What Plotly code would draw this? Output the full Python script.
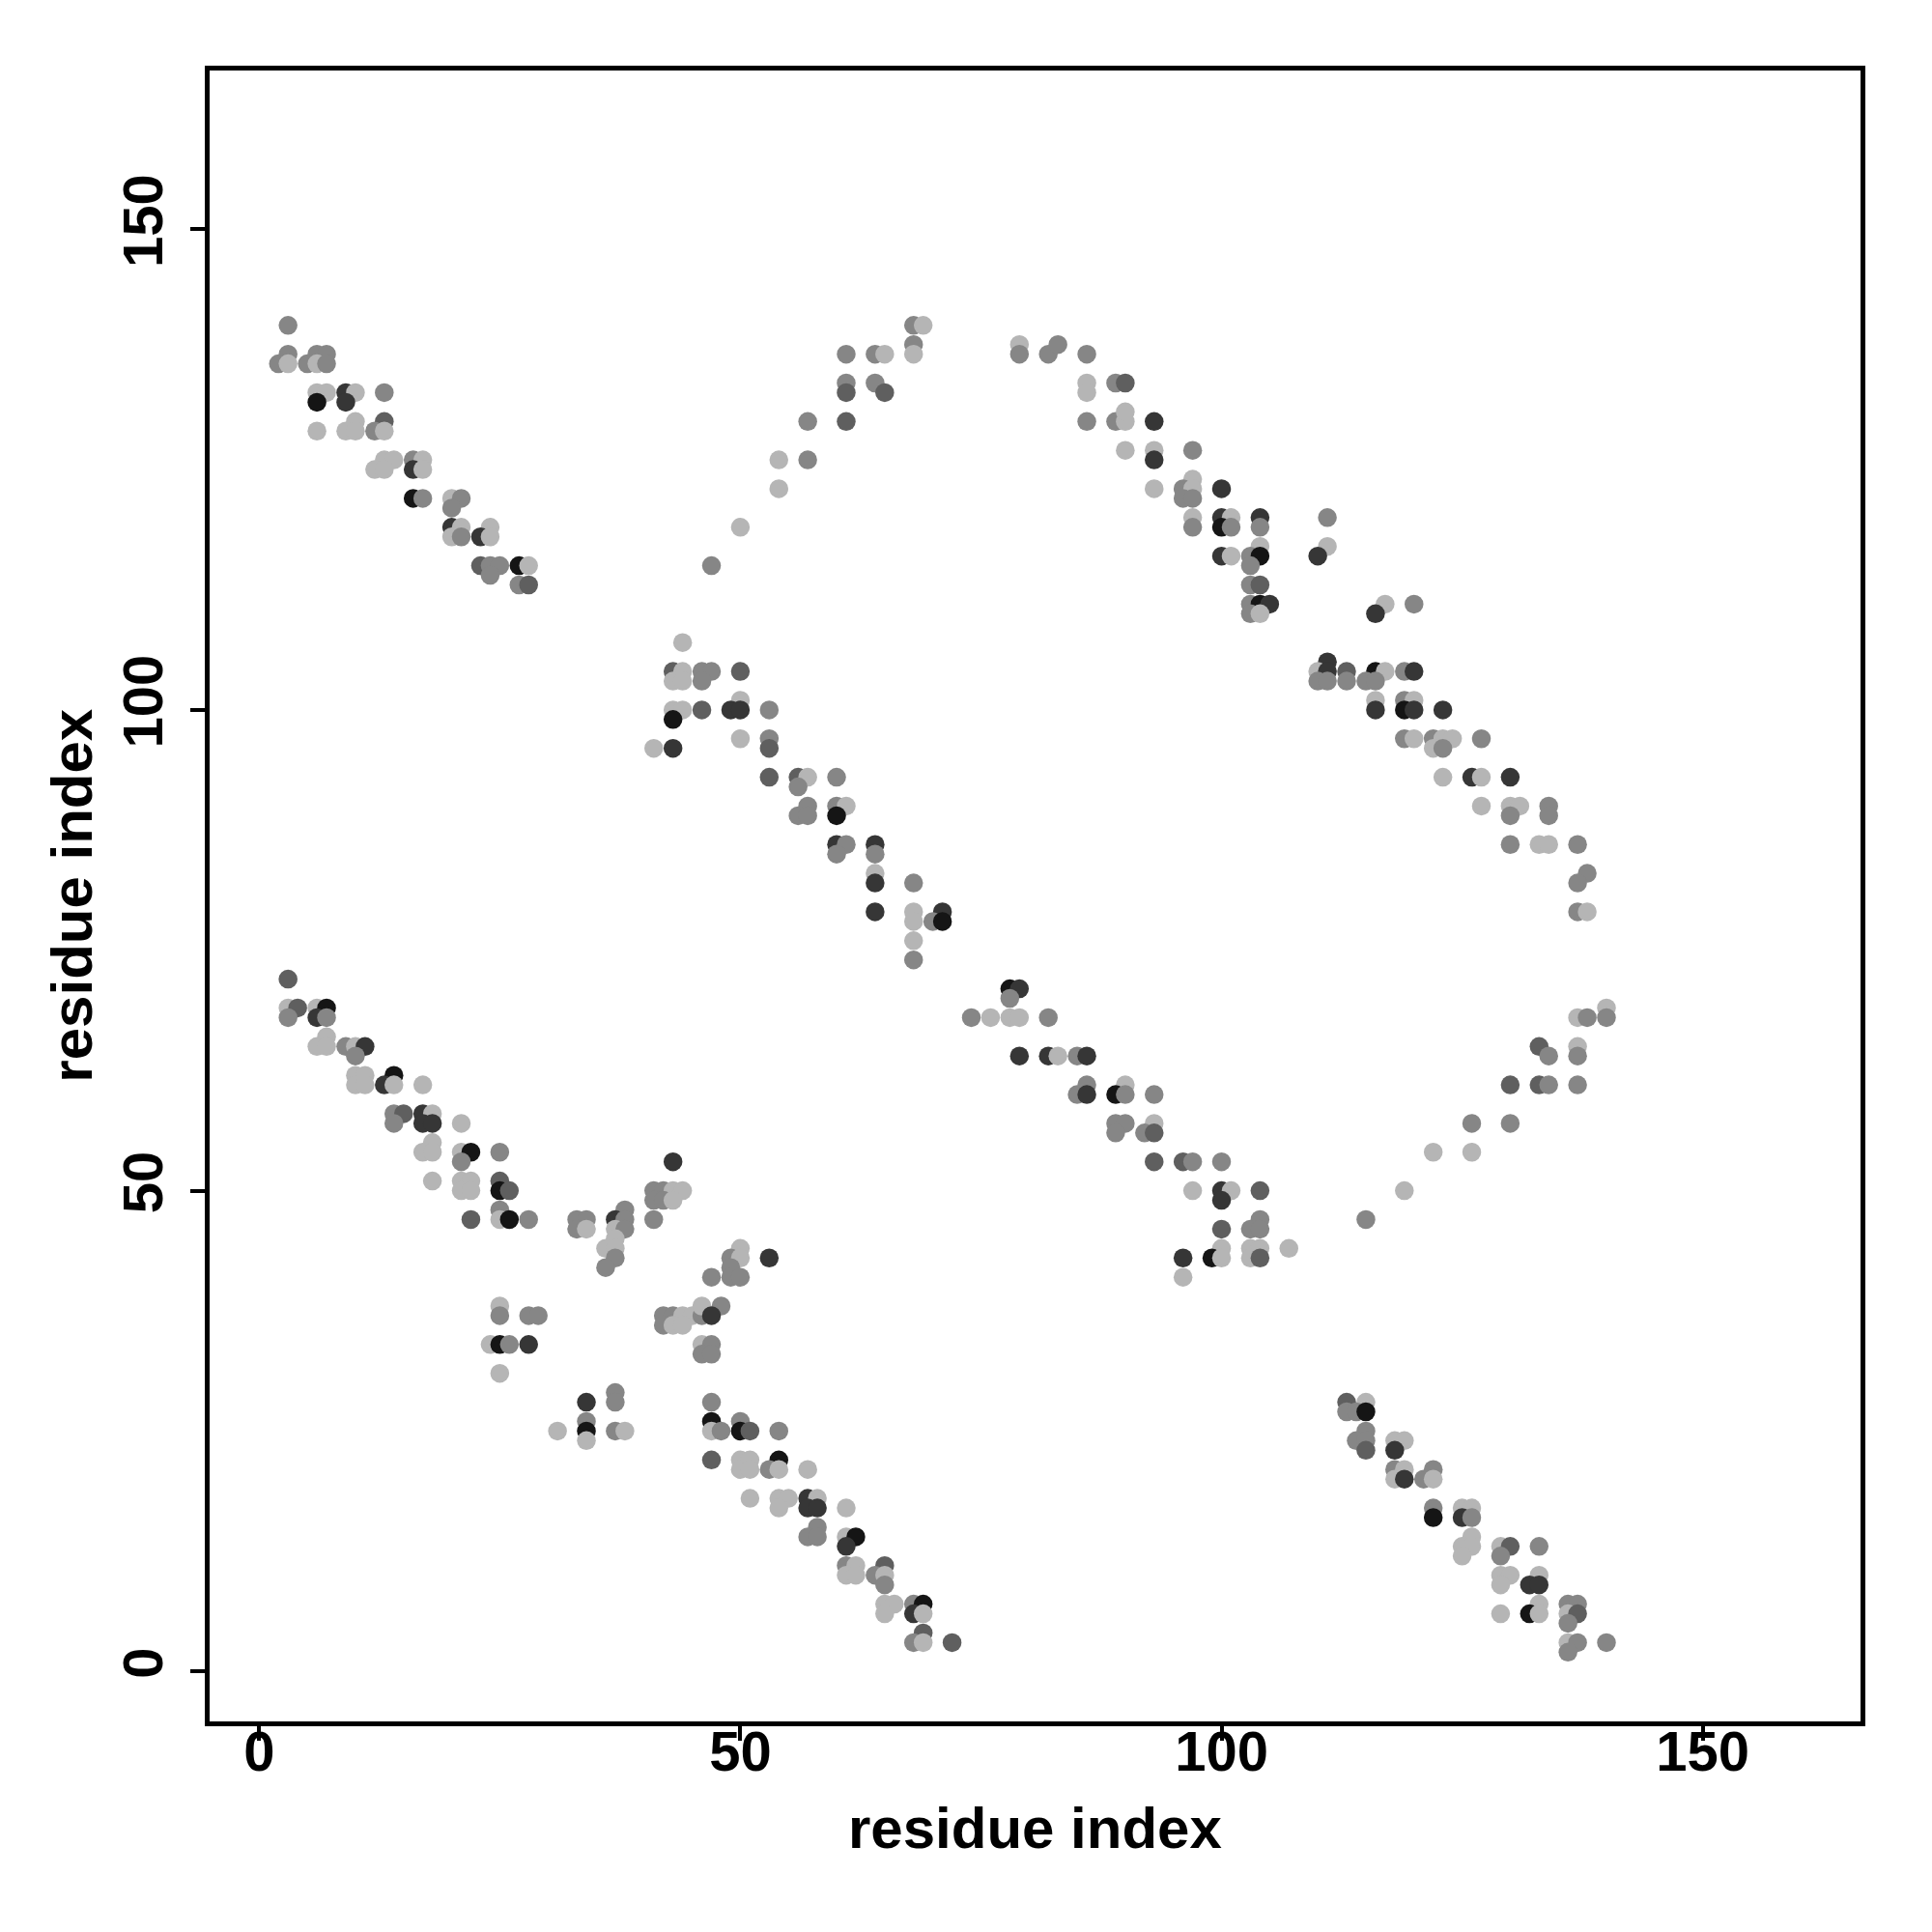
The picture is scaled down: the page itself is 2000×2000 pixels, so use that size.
import plotly.graph_objects as go

# contacts: (residue i, residue j, shade level 1=darkest .. 5=lightest)
block_top_left = [
    (3,140,4),(3,137,4),(6,137,4),(7,137,4),(2,136,4),(3,136,5),(5,136,4),(6,136,5),(7,136,4),
    (6,133,5),(7,133,5),(9,133,2),(10,133,5),(13,133,4),(6,132,1),(9,132,2),
    (10,130,5),(13,130,3),(6,129,5),(9,129,5),(10,129,5),(12,129,4),(13,129,5),
    (13,126,5),(14,126,5),(16,126,4),(17,126,5),(12,125,5),(13,125,5),(16,125,2),(17,125,5),
    (16,122,1),(17,122,4),(20,122,5),(21,122,4),(20,121,4),
    (20,119,2),(21,119,5),(24,119,5),(20,118,5),(21,118,4),(23,118,2),(24,118,5),
    (23,115,3),(24,115,4),(25,115,4),(27,115,1),(28,115,5),(24,114,4),(27,113,4),(28,113,3),
    (47,115,4),(44,107,5),
]
block_top_mid = [
    (68,140,4),(69,140,5),(68,138,4),(61,137,4),(64,137,4),(65,137,5),(68,137,5),
    (79,138,5),(79,137,4),(82,137,4),(83,138,4),(86,137,4),
    (61,134,4),(64,134,4),(86,134,5),(89,134,4),(90,134,3),(61,133,3),(65,133,3),(86,133,5),
    (57,130,4),(61,130,3),(86,130,4),(89,130,4),(90,130,5),(93,130,2),(90,131,5),
    (90,127,5),(93,127,5),(54,126,5),(57,126,4),(93,126,2),(54,123,5),(93,123,5),(50,119,5),
]
block_top_right = [
    (97,127,4),(97,124,5),(96,123,4),(97,123,5),(100,123,2),(96,122,4),(97,122,4),
    (97,120,5),(100,120,2),(101,120,5),(104,120,2),(111,120,4),
    (97,119,4),(100,119,1),(101,119,4),(104,119,4),(104,117,5),(111,117,5),
    (100,116,2),(101,116,5),(103,116,4),(104,116,1),(110,116,2),(103,115,4),
    (103,113,4),(104,113,3),(103,111,4),(104,111,1),(105,111,2),(117,111,5),(120,111,4),
    (103,110,4),(104,110,5),(116,110,2),
]
block_mid_left = [
    (43,104,3),(44,104,5),(46,104,4),(47,104,4),(43,103,5),(44,103,5),(46,103,4),
    (43,100,5),(44,100,5),(46,100,3),(43,99,1),(41,96,5),(43,96,2),(3,72,3),
]
block_mid_mid = [
    (50,104,3),(50,101,5),(49,100,2),(50,100,2),(53,100,4),(50,97,5),(53,97,4),(53,96,3),
    (53,93,3),(56,93,3),(57,93,5),(60,93,4),(56,92,4),(57,90,4),(60,90,4),(61,90,5),
    (56,89,4),(57,89,4),(60,89,1),(60,86,2),(61,86,4),(64,86,2),(60,85,4),(64,85,4),
    (64,83,5),(64,82,2),(68,82,4),(64,79,2),(68,79,5),(71,79,2),(68,78,5),(70,78,4),(71,78,1),
    (68,76,5),(68,74,4),(78,71,1),(79,71,2),(78,70,4),
]
block_mid_right = [
    (111,105,2),(110,104,5),(111,104,2),(113,104,3),(116,104,1),(117,104,5),(119,104,4),(120,104,2),
    (110,103,4),(111,103,4),(113,103,4),(115,103,4),(116,103,4),
    (116,101,5),(119,101,4),(120,101,5),(116,100,2),(119,100,1),(120,100,2),(123,100,2),
    (119,97,4),(120,97,5),(122,97,4),(123,97,5),(124,97,5),(127,97,4),(122,96,5),(123,96,4),
    (123,93,5),(126,93,2),(127,93,5),(130,93,2),(127,90,5),(130,90,5),(131,90,5),(134,90,4),
    (130,89,4),(134,89,4),(130,86,4),(133,86,5),(134,86,5),(137,86,4),
    (138,83,4),(137,82,4),(137,79,4),(138,79,5),
]
block_low_left = [
    (3,69,5),(4,69,3),(6,69,5),(7,69,1),(3,68,4),(6,68,2),(7,68,4),(7,66,5),
    (6,65,5),(7,65,5),(9,65,4),(10,65,5),(11,65,2),(10,64,4),
    (10,62,5),(11,62,5),(14,62,1),(10,61,5),(11,61,5),(13,61,2),(14,61,5),(17,61,5),
    (14,58,4),(15,58,3),(17,58,2),(18,58,5),(14,57,4),(17,57,2),(18,57,2),(21,57,5),
    (18,55,5),(17,54,5),(18,54,5),(21,54,5),(22,54,1),(25,54,4),(21,53,4),
    (18,51,5),(21,51,5),(22,51,5),(25,51,3),(21,50,5),(22,50,5),(25,50,1),(26,50,3),
    (43,53,2),(41,50,4),(42,50,4),(43,50,5),(44,50,5),(41,49,4),(42,49,4),(43,49,5),
    (25,48,4),(38,48,4),
    (22,47,3),(25,47,5),(26,47,1),(28,47,4),(33,47,4),(34,47,4),(37,47,2),(38,47,4),(41,47,4),
    (33,46,4),(34,46,5),(37,46,5),(38,46,4),(37,45,5),(36,44,5),(37,44,5),(37,43,4),(36,42,4),
    (47,41,4),(25,38,5),(25,37,4),(28,37,4),(29,37,4),
    (42,37,4),(43,37,4),(44,37,5),(45,37,5),(46,37,4),(42,36,4),(43,36,5),(44,36,5),(46,38,5),
]
block_low_mid = [
    (74,68,4),(76,68,5),(78,68,5),(79,68,5),(82,68,4),
    (79,64,2),(82,64,2),(83,64,5),(85,64,4),(86,64,2),(86,61,4),(90,61,5),
    (85,60,4),(86,60,2),(89,60,1),(90,60,4),(93,60,4),(89,57,4),(90,57,4),(93,57,5),
    (89,56,4),(92,56,4),(93,56,3),(93,53,3),
    (50,44,5),(49,43,4),(50,43,5),(53,43,2),(49,42,4),(49,41,4),(50,41,4),(48,38,4),(47,37,2),
]
block_low_right = [
    (140,69,5),(137,68,5),(138,68,4),(140,68,4),(133,65,3),(137,65,5),(134,64,4),(137,64,4),
    (130,61,3),(133,61,3),(134,61,4),(137,61,4),(126,57,4),(130,57,4),(122,54,5),(126,54,5),
    (119,50,5),(115,47,4),
    (96,53,3),(97,53,4),(100,53,4),(97,50,5),(100,50,2),(101,50,5),(104,50,3),(100,49,2),
    (104,47,4),(100,46,3),(103,46,4),(104,46,4),(100,44,5),(103,44,5),(104,44,5),(107,44,5),
    (96,43,2),(99,43,1),(100,43,5),(103,43,5),(104,43,3),(96,41,5),
]
block_bottom_left = [
    (24,34,5),(25,34,1),(26,34,4),(28,34,2),(25,31,5),(37,29,4),(34,28,2),(37,28,4),(34,26,4),
    (31,25,5),(34,25,1),(37,25,4),(38,25,5),(34,24,5),
    (46,34,5),(47,34,4),(46,33,4),(47,33,4),(47,28,4),(47,26,1),(47,25,5),(47,22,3),
]
block_bottom_mid = [
    (50,26,4),(48,25,4),(50,25,1),(51,25,3),(54,25,4),(50,22,5),(51,22,5),(54,22,1),
    (50,21,5),(51,21,5),(53,21,4),(54,21,5),(57,21,5),
    (51,18,5),(54,18,5),(55,18,5),(57,18,2),(58,18,5),(54,17,5),(57,17,2),(58,17,2),(61,17,5),
    (58,15,4),(57,14,4),(58,14,4),(61,14,5),(62,14,1),(61,13,2),
    (61,11,4),(62,11,5),(65,11,3),(61,10,5),(62,10,5),(64,10,4),(65,10,5),(65,9,4),
    (65,7,5),(66,7,5),(68,7,4),(69,7,1),(65,6,5),(68,6,2),(69,6,5),(69,4,3),
    (68,3,4),(69,3,5),(72,3,3),
]
block_bottom_right = [
    (113,28,3),(115,28,5),(113,27,4),(114,27,4),(115,27,1),(115,25,4),
    (114,24,4),(115,24,4),(118,24,5),(119,24,5),(115,23,3),(118,23,2),
    (118,21,4),(119,21,5),(122,21,4),(118,20,5),(119,20,2),(121,20,4),(122,20,5),
    (122,17,4),(125,17,5),(126,17,5),(122,16,1),(125,16,2),(126,16,4),(126,14,5),
    (125,13,5),(126,13,5),(129,13,5),(130,13,3),(133,13,4),(125,12,5),(129,12,4),
    (129,10,5),(130,10,5),(133,10,5),(129,9,5),(132,9,2),(133,9,2),
    (133,7,5),(136,7,4),(137,7,4),(129,6,5),(132,6,1),(133,6,5),(136,6,5),(137,6,3),
    (136,5,4),(136,3,5),(137,3,4),(140,3,4),(136,2,4),
]

shade_palette = {1: "#151515", 2: "#363636", 3: "#5f5f5f", 4: "#868686", 5: "#b5b5b5"}
tick_values = [0, 50, 100, 150]

blocks = [block_top_left, block_top_mid, block_top_right, block_mid_left, block_mid_mid,
          block_mid_right, block_low_left, block_low_mid, block_low_right,
          block_bottom_left, block_bottom_mid, block_bottom_right]
pts = [p for b in blocks for p in b]
xs = [p[0] for p in pts]
ys = [p[1] for p in pts]
cols = [shade_palette[p[2]] for p in pts]

fig = go.Figure(go.Scatter(
    x=xs, y=ys, mode="markers",
    marker=dict(size=19.5, color=cols, line=dict(width=0)),
    showlegend=False, hoverinfo="skip"))

FONT = "Liberation Sans, Arial, sans-serif"
axis_common = dict(
    showgrid=False, zeroline=False, showline=True, mirror=True,
    linecolor="black", linewidth=4.5, ticks="outside", ticklen=15, tickwidth=3.5,
    tickcolor="black", tickvals=tick_values,
    tickfont=dict(family=FONT, size=58, color="black", weight="bold"),
)
fig.update_layout(
    width=1984, height=1984,
    margin=dict(l=209, r=66, t=65, b=210),
    plot_bgcolor="white", paper_bgcolor="white",
    xaxis=dict(range=[-5.15, 166.4], ticklabelstandoff=-38, **axis_common),
    yaxis=dict(range=[-5.2, 166.5], tickangle=-90, ticklabelstandoff=6, **axis_common),
    annotations=[
        dict(text="<b>residue index</b>", xref="paper", yref="paper", x=0.5, y=-0.0644,
             xanchor="center", yanchor="middle", showarrow=False,
             font=dict(family=FONT, size=60, color="black")),
        dict(text="<b>residue index</b>", xref="paper", yref="paper", x=-0.0836, y=0.5,
             xanchor="center", yanchor="middle", showarrow=False, textangle=-90,
             font=dict(family=FONT, size=60, color="black")),
    ],
)
fig.write_html("out.html")
